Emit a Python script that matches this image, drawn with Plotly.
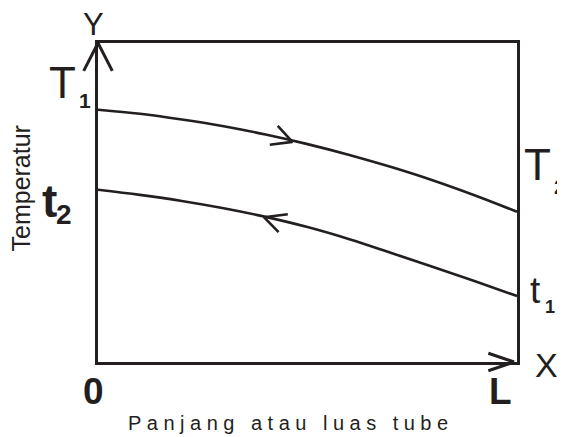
import plotly.graph_objects as go

# ---- data (x: tube length 0..L mapped to 0..10, y: temperature in arbitrary units 0..100)
x_pos = [0, 1, 2, 3, 4, 5, 6, 7, 8, 9, 10]
hot_T = [79.1, 77.8, 76.0, 73.9, 71.3, 68.3, 64.9, 61.1, 56.9, 52.2, 47.1]   # T1 -> T2
cold_t = [54.0, 52.4, 50.5, 48.2, 45.5, 42.3, 38.5, 34.2, 29.8, 25.3, 20.7]  # t1 -> t2 (flows right to left)

# direction arrows on the curves (chevrons)
hot_arrow_x = [4.29, 4.64, 4.10]
hot_arrow_y = [74.0, 69.0, 68.1]
cold_arrow_x = [4.53, 3.96, 4.31]
cold_arrow_y = [46.3, 45.4, 40.7]

# axis arrowheads (open chevrons at the axis ends): tip, then the two arm ends
yaxis_arrow_tip = (0.0, 100.0)
yaxis_arrow_arms = [(-0.36, 90.8), (0.36, 90.8)]
xaxis_arrow_tip = (9.93, 0.0)
xaxis_arrow_arms = [(9.28, 2.9), (9.28, -2.9)]

INK = "#231f20"
OFF = 8                      # page body margin of the html page
W, H = 565 - OFF, 437 - OFF
ML, MR, MT, MB = 98 - OFF, 48, 43 - OFF, 75

fig = go.Figure()

for ys in [hot_T, cold_t]:
    fig.add_trace(go.Scatter(x=x_pos, y=ys, mode="lines",
                             line=dict(color=INK, width=2.6, shape="spline"),
                             hoverinfo="skip", showlegend=False))

for xs, ys in [(hot_arrow_x, hot_arrow_y), (cold_arrow_x, cold_arrow_y)]:
    fig.add_trace(go.Scatter(x=xs, y=ys, mode="lines",
                             line=dict(color=INK, width=2.6),
                             hoverinfo="skip", showlegend=False))

for tip, arms in [(yaxis_arrow_tip, yaxis_arrow_arms), (xaxis_arrow_tip, xaxis_arrow_arms)]:
    for ax_, ay_ in arms:
        fig.add_annotation(x=tip[0], y=tip[1], ax=ax_, ay=ay_, xref="x", yref="y",
                           axref="x", ayref="y", text="", showarrow=True,
                           arrowhead=0, arrowwidth=3, arrowcolor=INK, standoff=0,
                           startstandoff=0)


def P(px, py):
    """pixel position in the 565x437 window -> paper coordinates"""
    px -= OFF
    py -= OFF
    return (px - ML) / (W - ML - MR), (H - MB - py) / (H - MT - MB)


FONT = "Liberation Sans, Arial, sans-serif"
labels = [
    # text, px, py, size, bold, angle
    ("Y", 93.5, 24, 31, False, 0),
    ("T", 62, 82.5, 44, False, 0),
    ("1", 85, 100.5, 21, True, 0),
    ("T", 537.5, 164, 44, False, 0),
    ("2", 560, 186, 21, True, 0),
    ("t", 49, 201, 46, True, 0),
    ("2", 63.5, 215, 28, True, 0),
    ("t", 535, 290.5, 37, False, 0),
    ("1", 550, 306.5, 18, True, 0),
    ("0", 93.5, 391.5, 37, True, 0),
    ("L", 500, 391.5, 37, True, 0),
    ("X", 546, 364.5, 34, False, 0),
    ("Temperatur", 20, 188.5, 25, False, -90),
    ('<span style="letter-spacing:5.5px">Panjang atau luas tube</span>', 291, 422.5, 20, False, 0),
]
for text, px, py, size, bold, ang in labels:
    xp, yp = P(px, py)
    fig.add_annotation(x=xp, y=yp, xref="paper", yref="paper", text=text,
                       showarrow=False, xanchor="center", yanchor="middle",
                       textangle=ang,
                       font=dict(family=FONT, size=size, color=INK,
                                 weight="bold" if bold else "normal"))

axis_common = dict(showline=True, mirror=True, linewidth=3, linecolor=INK,
                   showgrid=False, zeroline=False, showticklabels=False, ticks="",
                   fixedrange=True)
fig.update_xaxes(range=[0, 10], **axis_common)
fig.update_yaxes(range=[0, 100], **axis_common)

fig.update_layout(width=W, height=H, margin=dict(l=ML, r=MR, t=MT, b=MB),
                  paper_bgcolor="white", plot_bgcolor="white", showlegend=False)

fig.write_html("out.html")
